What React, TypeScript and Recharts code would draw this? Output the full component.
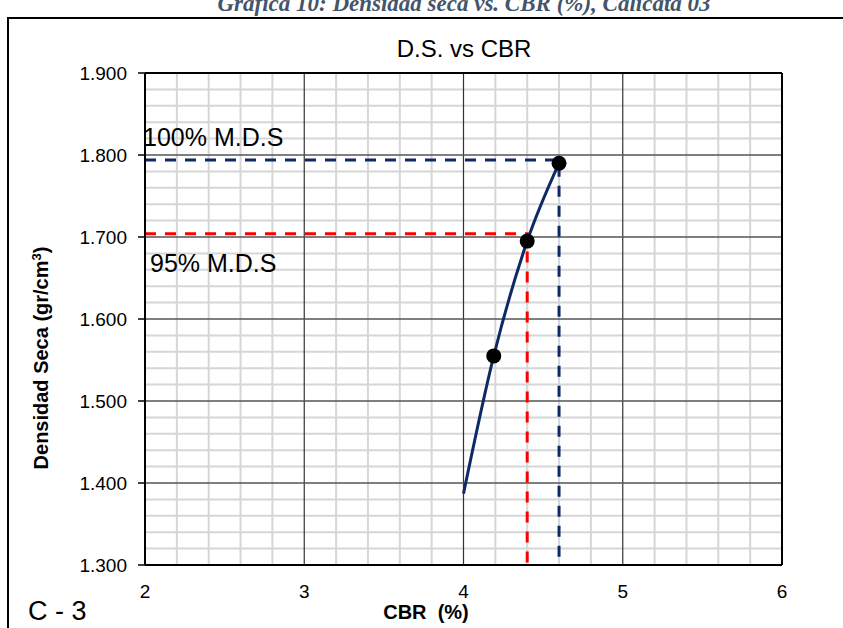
import React from "react";
import {
  ComposedChart,
  Line,
  Scatter,
  XAxis,
  YAxis,
  ReferenceLine,
} from "recharts";

// ---- data ----
const xTicks = [2, 3, 4, 5, 6];
const yTicks = [1.3, 1.4, 1.5, 1.6, 1.7, 1.8, 1.9];
const xMinorStep = 0.2;
const yMinorStep = 0.02;

const pointCbr = [4.19, 4.4, 4.6];
const pointDensity = [1.555, 1.695, 1.79];

const curveCbr = [4.0, 4.19, 4.4, 4.6];
const curveDensity = [1.387, 1.555, 1.695, 1.79];

const mds100Density = 1.794;
const mds100Cbr = 4.6;
const mds95Density = 1.704;
const mds95Cbr = 4.4;

const xMin = xTicks[0];
const xMax = xTicks[xTicks.length - 1];
const yMin = yTicks[0];
const yMax = yTicks[yTicks.length - 1];

// ---- derived tables ----
const points = pointCbr.map((x, i) => ({ x, y: pointDensity[i] }));
const curve = curveCbr.map((x, i) => ({ x, y: curveDensity[i] }));
const line100 = [
  { x: xMin, y: mds100Density },
  { x: mds100Cbr, y: mds100Density },
  { x: mds100Cbr, y: yMin },
];
const line95 = [
  { x: xMin, y: mds95Density },
  { x: mds95Cbr, y: mds95Density },
  { x: mds95Cbr, y: yMin },
];

const round = (v: number) => Math.round(v * 1000) / 1000;
const xMinor: number[] = [];
for (let i = 1; round(xMin + i * xMinorStep) < xMax; i++) {
  const v = round(xMin + i * xMinorStep);
  if (!xTicks.includes(v)) xMinor.push(v);
}
const yMinor: number[] = [];
for (let i = 1; round(yMin + i * yMinorStep) < yMax; i++) {
  const v = round(yMin + i * yMinorStep);
  if (!yTicks.some((t) => Math.abs(t - v) < 1e-6)) yMinor.push(v);
}

const W = 843;
const H = 628;
const FONT = "'Liberation Sans', Arial, sans-serif";
const NAVY = "#0E2A66";

export default function App() {
  return (
    <div style={{ position: "absolute", left: 0, top: 0, width: W, height: H, background: "#fff" }}>
      <ComposedChart
        width={W}
        height={H}
        margin={{ top: 73, right: 61, bottom: 23, left: 0 }}
        style={{ fontFamily: FONT }}
      >
        <XAxis
          type="number"
          dataKey="x"
          domain={[xMin, xMax]}
          ticks={xTicks}
          allowDataOverflow
          height={40}
          tickLine={false}
          tickSize={6}
          tickMargin={14}
          axisLine={{ stroke: "#000", strokeWidth: 2 }}
          tick={{ fill: "#000", fontSize: 19, fontFamily: FONT }}
        />
        <YAxis
          type="number"
          dataKey="y"
          domain={[yMin, yMax]}
          ticks={yTicks}
          allowDataOverflow
          width={145}
          tickSize={7}
          tickMargin={11}
          tickFormatter={(v: number) => v.toFixed(3)}
          axisLine={{ stroke: "#000", strokeWidth: 2 }}
          tickLine={{ stroke: "#000", strokeWidth: 1.5 }}
          tick={{ fill: "#000", fontSize: 19, fontFamily: FONT }}
        />
        {xMinor.map((v) => (
          <ReferenceLine key={"xm" + v} x={v} stroke="#d6d6d6" strokeWidth={2} />
        ))}
        {yMinor.map((v) => (
          <ReferenceLine key={"ym" + v} y={v} stroke="#d6d6d6" strokeWidth={2} />
        ))}
        {xTicks.slice(1, -1).map((v) => (
          <ReferenceLine key={"xM" + v} x={v} stroke="#333" strokeWidth={1.2} />
        ))}
        {yTicks.slice(1, -1).map((v) => (
          <ReferenceLine key={"yM" + v} y={v} stroke="#555" strokeWidth={1.5} />
        ))}
        <ReferenceLine x={xMax} stroke="#000" strokeWidth={2} />
        <ReferenceLine y={yMax} stroke="#000" strokeWidth={2} />
        <Line
          data={line95}
          dataKey="y"
          type="linear"
          stroke="#FF0000"
          strokeWidth={3}
          strokeDasharray="11 9"
          dot={false}
          activeDot={false}
          isAnimationActive={false}
        />
        <Line
          data={line100}
          dataKey="y"
          type="linear"
          stroke={NAVY}
          strokeWidth={3}
          strokeDasharray="11 9"
          dot={false}
          activeDot={false}
          isAnimationActive={false}
        />
        <Line
          data={curve}
          dataKey="y"
          type="monotone"
          stroke={NAVY}
          strokeWidth={3}
          dot={false}
          activeDot={false}
          isAnimationActive={false}
        />
        <Scatter
          data={points}
          dataKey="y"
          fill="#000"
          isAnimationActive={false}
          shape={(p: any) => <circle cx={p.cx} cy={p.cy} r={7.5} fill="#000" />}
        />
      </ComposedChart>
      <svg
        width={W}
        height={H}
        style={{ position: "absolute", left: 0, top: 0, pointerEvents: "none" }}
      >
        <path d={`M8,${H + 2} V18 H${W + 2}`} fill="none" stroke="#000" strokeWidth={2} />
        <text
          x={464}
          y={11}
          textAnchor="middle"
          fontFamily="'Liberation Serif', 'Times New Roman', serif"
          fontStyle="italic"
          fontWeight="bold"
          fontSize={23}
          fill="#44546A"
        >
          Gráfica 10: Densidad seca vs. CBR (%), Calicata 03
        </text>
        <text x={464} y={57} textAnchor="middle" fontFamily={FONT} fontSize={24} fill="#000">
          D.S. vs CBR
        </text>
        <text x={143} y={146} fontFamily={FONT} fontSize={25} fill="#000">
          100% M.D.S
        </text>
        <text x={150} y={272} fontFamily={FONT} fontSize={25} fill="#000">
          95% M.D.S
        </text>
        <text x={28} y={620} fontFamily={FONT} fontSize={27} fill="#000">
          C - 3
        </text>
        <text
          x={426}
          y={619}
          textAnchor="middle"
          fontFamily={FONT}
          fontWeight="bold"
          fontSize={20}
          fill="#000"
          style={{ whiteSpace: "pre" }}
        >
          CBR  (%)
        </text>
        <text
          transform="translate(48,358) rotate(-90)"
          textAnchor="middle"
          fontFamily={FONT}
          fontWeight="bold"
          fontSize={20}
          fill="#000"
        >
          Densidad Seca (gr/cm<tspan baselineShift="super" fontSize={13}>3</tspan>)
        </text>
      </svg>
    </div>
  );
}
